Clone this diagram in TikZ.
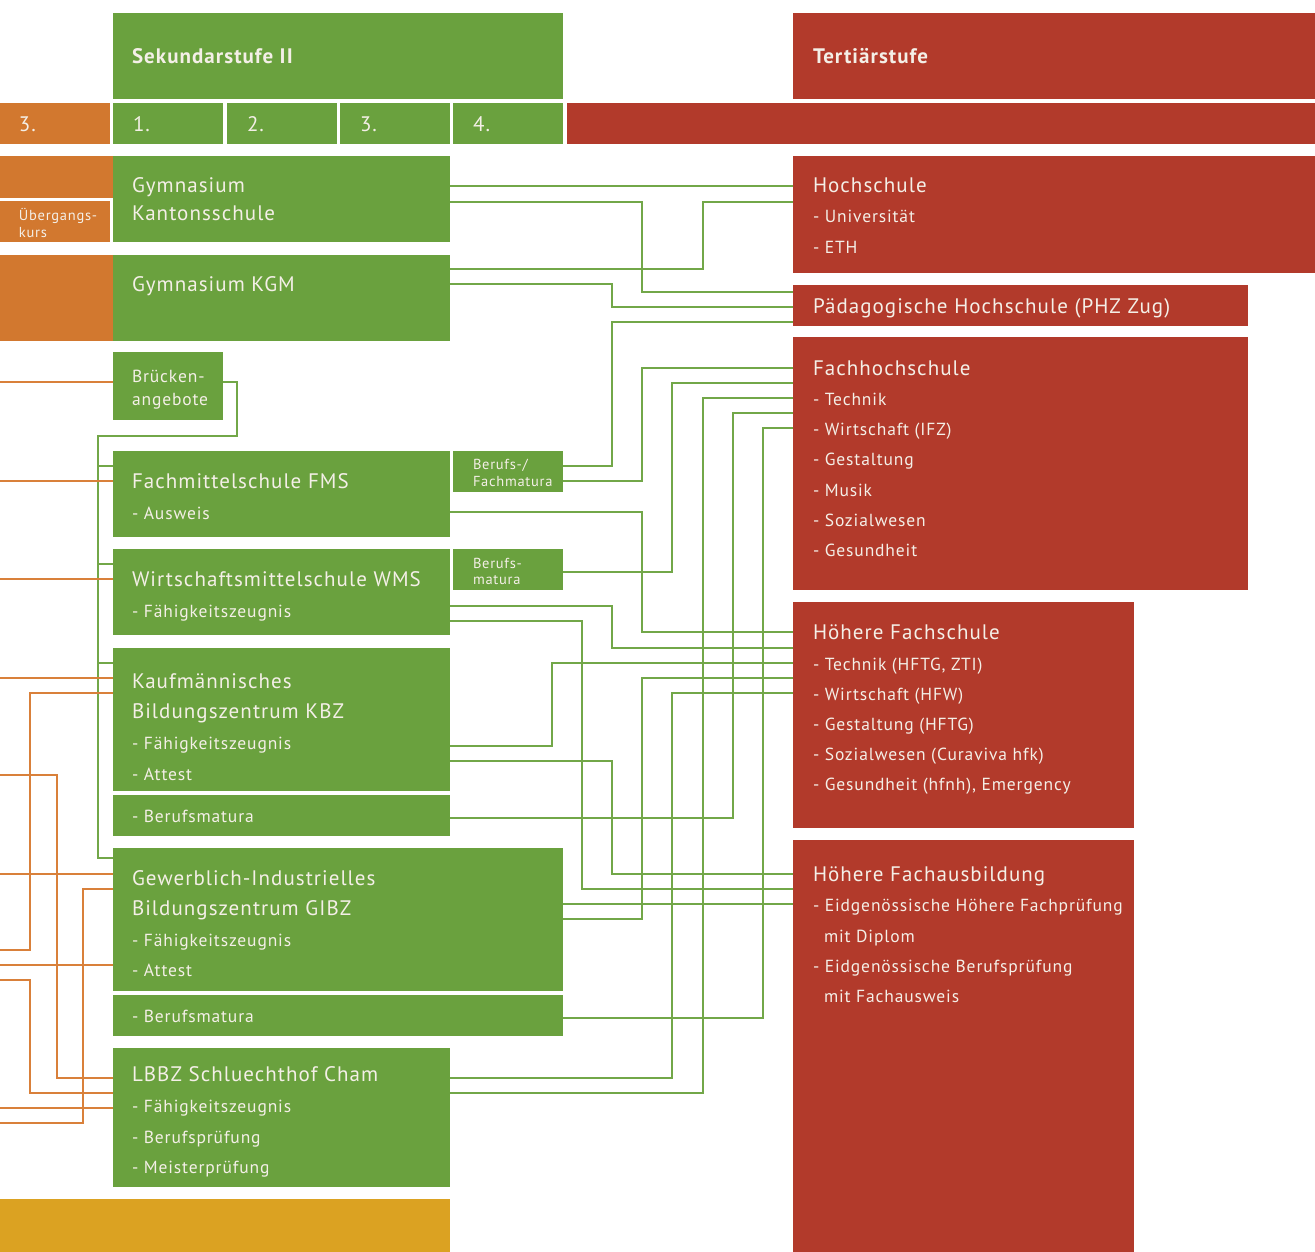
\documentclass[tikz,border=0pt]{standalone}
\usepackage{fontspec}
\setmainfont{PT Sans}[LetterSpace=5]
\definecolor{cgreen}{HTML}{6AA13E}
\definecolor{cred}{HTML}{B23A2B}
\definecolor{corange}{HTML}{D2782F}
\definecolor{cyellow}{HTML}{DBA222}
\definecolor{cgline}{HTML}{72A748}
\definecolor{coline}{HTML}{D9803A}
\definecolor{ctext}{HTML}{F4EFE7}
\tikzset{
  boxg/.style={fill=cgreen, inner sep=0, outer sep=0, anchor=north west},
  boxr/.style={fill=cred, inner sep=0, outer sep=0, anchor=north west},
  boxo/.style={fill=corange, inner sep=0, outer sep=0, anchor=north west},
  boxy/.style={fill=cyellow, inner sep=0, outer sep=0, anchor=north west},
  sz/.style 2 args={minimum width=#1pt, minimum height=#2pt},
  txt/.style={anchor=base west, inner sep=0, outer sep=0, text=ctext},
  head/.style={txt, font=\fontsize{21}{24}\selectfont\bfseries},
  big/.style={txt, font=\fontsize{21}{25}\selectfont},
  mid/.style={txt, font=\fontsize{17.5}{21}\selectfont},
  small/.style={txt, font=\fontsize{14.5}{17}\selectfont},
  gline/.style={draw=cgline, line width=1.3pt},
  oline/.style={draw=coline, line width=1.3pt},
}
\begin{document}
\begin{tikzpicture}[x=1pt, y=-1pt]
\useasboundingbox (0,0) rectangle (1315,1252);
\coordinate (L) at (0,0);
% header
\node[boxg, sz={450}{86}] (sek) at (113,13) {};
\node[boxr, sz={522}{86}] (ter) at (793,13) {};
\node[head] (tsek) at (132,64) {Sekundarstufe II};
\node[head] (tter) at (813,64) {Tertiärstufe};
% year row
\node[boxo, sz={110}{41}] (o3) at (0,103) {};
\node[boxg, sz={110}{41}] (g1) at (113,103) {};
\node[boxg, sz={110}{41}] (g2) at (227,103) {};
\node[boxg, sz={110}{41}] (g3) at (340,103) {};
\node[boxg, sz={110}{41}] (g4) at (453,103) {};
\node[boxr, sz={748}{41}] (rbar) at (567,103) {};
\node[big] (to3) at (19,132) {3.};
\node[big] (tg1) at (133,132) {1.};
\node[big] (tg2) at (247,132) {2.};
\node[big] (tg3) at (360,132) {3.};
\node[big] (tg4) at (473,132) {4.};
% orange left blocks
\node[boxo, sz={113}{42}] (otop) at (0,156) {};
\node[boxo, sz={110}{41}] (ueb) at (0,201) {};
\node[small] (tueb1) at (19,221) {Übergangs-};
\node[small] (tueb2) at (19,238) {kurs};
\node[boxo, sz={113}{86}] (okgm) at (0,255) {};
% green school boxes
\node[boxg, sz={337}{86}] (gym) at (113,156) {};
\node[big] (tgym1) at (132,193) {Gymnasium};
\node[big] (tgym2) at (132,220.5) {Kantonsschule};
\node[boxg, sz={337}{86}] (kgm) at (113,255) {};
\node[big] (tkgm) at (132,291) {Gymnasium KGM};
\node[boxg, sz={110}{68}] (bru) at (113,352) {};
\node[mid] (tbru1) at (132,382) {Brücken-};
\node[mid] (tbru2) at (132,405) {angebote};
\node[boxg, sz={337}{86}] (fms) at (113,451) {};
\node[big] (tfms1) at (132,488.5) {Fachmittelschule FMS};
\node[mid] (tfms2) at (132,519) {- Ausweis};
\node[boxg, sz={110}{41}] (bfm) at (453,451) {};
\node[small] (tbfm1) at (473,469) {Berufs-/};
\node[small] (tbfm2) at (473,486) {Fachmatura};
\node[boxg, sz={337}{86}] (wms) at (113,549) {};
\node[big] (twms1) at (132,586.5) {Wirtschaftsmittelschule WMS};
\node[mid] (twms2) at (132,617) {- Fähigkeitszeugnis};
\node[boxg, sz={110}{41}] (bm1) at (453,549) {};
\node[small] (tbm11) at (473,568) {Berufs-};
\node[small] (tbm12) at (473,584) {matura};
\node[boxg, sz={337}{143}] (kbz) at (113,648) {};
\node[big] (tkbz1) at (132,688.5) {Kaufmännisches};
\node[big] (tkbz2) at (132,718.5) {Bildungszentrum KBZ};
\node[mid] (tkbz3) at (132,749) {- Fähigkeitszeugnis};
\node[mid] (tkbz4) at (132,780) {- Attest};
\node[boxg, sz={337}{41}] (kbzbm) at (113,795) {};
\node[mid] (tkbzbm) at (132,822) {- Berufsmatura};
\node[boxg, sz={450}{143}] (gibz) at (113,848) {};
\node[big] (tgibz1) at (132,885.5) {Gewerblich-Industrielles};
\node[big] (tgibz2) at (132,915.5) {Bildungszentrum GIBZ};
\node[mid] (tgibz3) at (132,946) {- Fähigkeitszeugnis};
\node[mid] (tgibz4) at (132,976) {- Attest};
\node[boxg, sz={450}{41}] (gibzbm) at (113,995) {};
\node[mid] (tgibzbm) at (132,1022) {- Berufsmatura};
\node[boxg, sz={337}{139}] (lbbz) at (113,1048) {};
\node[big] (tlbbz1) at (132,1081.5) {LBBZ Schluechthof Cham};
\node[mid] (tlbbz2) at (132,1112) {- Fähigkeitszeugnis};
\node[mid] (tlbbz3) at (132,1143) {- Berufsprüfung};
\node[mid] (tlbbz4) at (132,1173) {- Meisterprüfung};
\node[boxy, sz={450}{53}] (yel) at (0,1199) {};
% red tertiary boxes
\node[boxr, sz={522}{117}] (hoch) at (793,156) {};
\node[big] (thoch1) at (813,193) {Hochschule};
\node[mid] (thoch2) at (813,223) {- Universität};
\node[mid] (thoch3) at (813,254) {- ETH};
\node[boxr, sz={455}{41}] (phz) at (793,285) {};
\node[big] (tphz) at (813,313) {Pädagogische Hochschule (PHZ Zug)};
\node[boxr, sz={455}{253}] (fh) at (793,337) {};
\node[big] (tfh0) at (813,375) {Fachhochschule};
\node[mid] (tfh1) at (813,405) {- Technik};
\node[mid] (tfh2) at (813,435) {- Wirtschaft (IFZ)};
\node[mid] (tfh3) at (813,465) {- Gestaltung};
\node[mid] (tfh4) at (813,496) {- Musik};
\node[mid] (tfh5) at (813,526) {- Sozialwesen};
\node[mid] (tfh6) at (813,556) {- Gesundheit};
\node[boxr, sz={341}{226}] (hf) at (793,602) {};
\node[big] (thf0) at (813,639) {Höhere Fachschule};
\node[mid] (thf1) at (813,670) {- Technik (HFTG, ZTI)};
\node[mid] (thf2) at (813,700) {- Wirtschaft (HFW)};
\node[mid] (thf3) at (813,730) {- Gestaltung (HFTG)};
\node[mid] (thf4) at (813,760) {- Sozialwesen (Curaviva hfk)};
\node[mid] (thf5) at (813,790) {- Gesundheit (hfnh), Emergency};
\node[boxr, sz={341}{412}] (hfa) at (793,840) {};
\node[big] (thfa0) at (813,881) {Höhere Fachausbildung};
\node[mid] (thfa1) at (813,911) {- Eidgenössische Höhere Fachprüfung};
\node[mid] (thfa2) at (824,942) {mit Diplom};
\node[mid] (thfa3) at (813,972) {- Eidgenössische Berufsprüfung};
\node[mid] (thfa4) at (824,1002) {mit Fachausweis};
% green connectors (right)
\draw[gline] (gym.east|-0,186) -- (hoch.west|-0,186);
\draw[gline] (gym.east|-0,202) -| (642,292) -- (phz.west|-0,292);
\draw[gline] (kgm.east|-0,269) -| (703,202) -- (hoch.west|-0,202);
\draw[gline] (kgm.east|-0,284) -| (612,307) -- (phz.west|-0,307);
\draw[gline] (bfm.east|-0,466) -| (612,322) -- (phz.west|-0,322);
\draw[gline] (bfm.east|-0,481) -| (642,368) -- (fh.west|-0,368);
\draw[gline] (bm1.east|-0,572) -| (672,383) -- (fh.west|-0,383);
\draw[gline] (lbbz.east|-0,1093) -| (703,398) -- (fh.west|-0,398);
\draw[gline] (kbzbm.east|-0,818) -| (733,413) -- (fh.west|-0,413);
\draw[gline] (gibzbm.east|-0,1018) -| (763,428) -- (fh.west|-0,428);
\draw[gline] (fms.east|-0,512) -| (642,632) -- (hf.west|-0,632);
\draw[gline] (wms.east|-0,606) -| (612,648) -- (hf.west|-0,648);
\draw[gline] (wms.east|-0,621) -| (582,889) -- (hfa.west|-0,889);
\draw[gline] (kbz.east|-0,746) -| (552,663) -- (hf.west|-0,663);
\draw[gline] (gibz.east|-0,919) -| (642,678) -- (hf.west|-0,678);
\draw[gline] (lbbz.east|-0,1078) -| (672,693) -- (hf.west|-0,693);
\draw[gline] (kbz.east|-0,761) -| (612,874) -- (hfa.west|-0,874);
\draw[gline] (gibz.east|-0,904) -- (hfa.west|-0,904);
% green connectors (left, from Brückenangebote)
\draw[gline] (bru.east|-0,382) -| (237,436) -| (98,858) -- (gibz.west|-0,858);
\draw[gline] (98,466) -- (fms.west|-0,466);
\draw[gline] (98,564) -- (wms.west|-0,564);
\draw[gline] (98,663) -- (kbz.west|-0,663);
% orange connectors (left)
\draw[oline] (L|-0,382) -- (bru.west|-0,382);
\draw[oline] (L|-0,481) -- (fms.west|-0,481);
\draw[oline] (L|-0,579) -- (wms.west|-0,579);
\draw[oline] (L|-0,678) -- (kbz.west|-0,678);
\draw[oline] (kbz.west|-0,693) -| (30,950) -- (L|-0,950);
\draw[oline] (L|-0,775) -| (57,1078) -- (lbbz.west|-0,1078);
\draw[oline] (L|-0,874) -- (gibz.west|-0,874);
\draw[oline] (gibz.west|-0,889) -| (83,1123) -- (L|-0,1123);
\draw[oline] (L|-0,965) -- (gibz.west|-0,965);
\draw[oline] (L|-0,980) -| (30,1093) -- (lbbz.west|-0,1093);
\draw[oline] (L|-0,1108) -- (lbbz.west|-0,1108);
\end{tikzpicture}
\end{document}
